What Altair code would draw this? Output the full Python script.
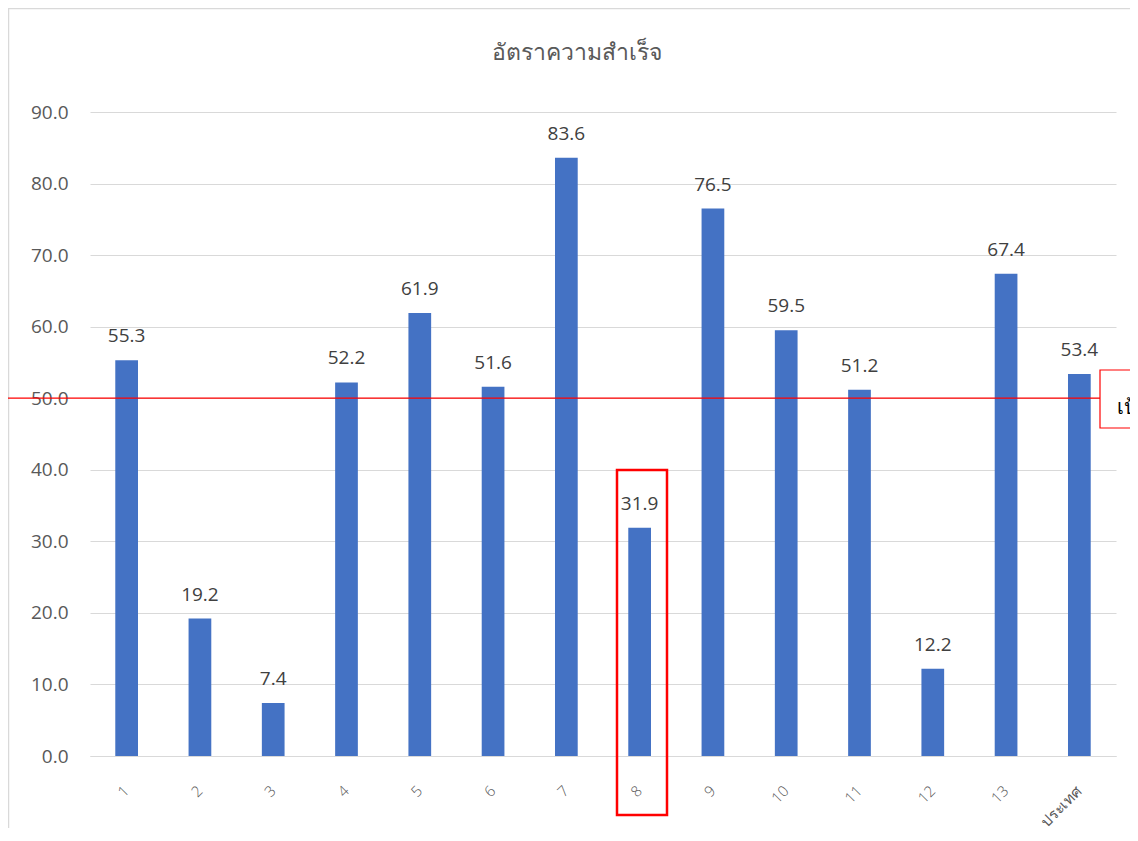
import altair as alt
import pandas as pd

categories = ["1", "2", "3", "4", "5", "6", "7", "8", "9", "10", "11", "12", "13", "ประเทศ"]
values = [55.3, 19.2, 7.4, 52.2, 61.9, 51.6, 83.6, 31.9, 76.5, 59.5, 51.2, 12.2, 67.4, 53.4]
y_ticks = [0, 10, 20, 30, 40, 50, 60, 70, 80, 90]
target = 50
title_text = "อัตราความสำเร็จ"
target_label = "เป้าหมาย"

df = pd.DataFrame({"cat": categories, "value": values})

FONT = "Open Sans"
W, H = 1026, 644

x_enc = alt.X(
    "cat:N", sort=categories, title=None,
    scale=alt.Scale(paddingInner=0.69, paddingOuter=0.345),
    axis=alt.Axis(labelAngle=-45, labelAlign="right", labelBaseline="middle",
                  labelPadding=32, labelFontSize=15, labelColor="#595959",
                  labelFont=FONT, labelFontWeight=300, ticks=False, domain=True,
                  domainColor="#d9d9d9", grid=False),
)
y_enc = alt.Y(
    "value:Q", title=None,
    scale=alt.Scale(domain=[0, 90], nice=False),
    axis=alt.Axis(values=y_ticks, format=".1f", labelFontSize=19, labelColor="#595959",
                  labelFont=FONT, labelPadding=22, ticks=False, domain=False,
                  gridColor="#d9d9d9", gridWidth=1),
)

base = alt.Chart(df)
bars = base.mark_bar(color="#4472C4").encode(x=x_enc, y=y_enc)
labels = base.mark_text(baseline="bottom", dy=-14, fontSize=19, color="#404040", font=FONT).encode(
    x=alt.X("cat:N", sort=categories), y="value:Q", text=alt.Text("value:Q", format=".1f")
)

tdf = pd.DataFrame({"t": [target]})
target_line = alt.Chart(tdf).mark_rule(color="#ff0000", strokeWidth=1.2).encode(
    y="t:Q", x=alt.value(-82), x2=alt.value(1010)
)
target_box = alt.Chart(tdf).mark_rect(fill="white", stroke="#ff0000", strokeWidth=1.2).encode(
    x=alt.value(1010), x2=alt.value(1070), y=alt.value(258), y2=alt.value(316)
)
target_text = alt.Chart(pd.DataFrame({"s": [target_label]})).mark_text(
    align="left", baseline="middle", fontSize=20, color="#000000", font=FONT
).encode(x=alt.value(1027), y=alt.value(296), text="s:N")

hl_box = alt.Chart(tdf).mark_rect(fill=None, stroke="#ff0000", strokeWidth=2.5).encode(
    x=alt.value(527), x2=alt.value(577), y=alt.value(358), y2=alt.value(703)
)

title = alt.Chart(pd.DataFrame({"s": [title_text]})).mark_text(
    align="center", baseline="middle", fontSize=23, color="#595959", font=FONT
).encode(x=alt.value(487), y=alt.value(-59), text="s:N")

left_border = alt.Chart(tdf).mark_rule(color="#d9d9d9", strokeWidth=1.5).encode(
    x=alt.value(-81.5), y=alt.value(-104), y2=alt.value(730)
)
top_border = alt.Chart(tdf).mark_rule(color="#d9d9d9", strokeWidth=1.5).encode(
    y=alt.value(-103.5), x=alt.value(-82), x2=alt.value(1060)
)

chart = alt.layer(
    left_border, top_border, bars, labels, target_line, target_box, target_text, hl_box, title
).properties(
    width=W, height=H,
    padding={"left": 82, "top": 104, "right": 14, "bottom": 72},
    autosize=alt.AutoSizeParams(type="none"),
    background="white",
).configure_view(stroke=None)

chart.save("out.html", embed_options={"renderer": "svg", "actions": False})
